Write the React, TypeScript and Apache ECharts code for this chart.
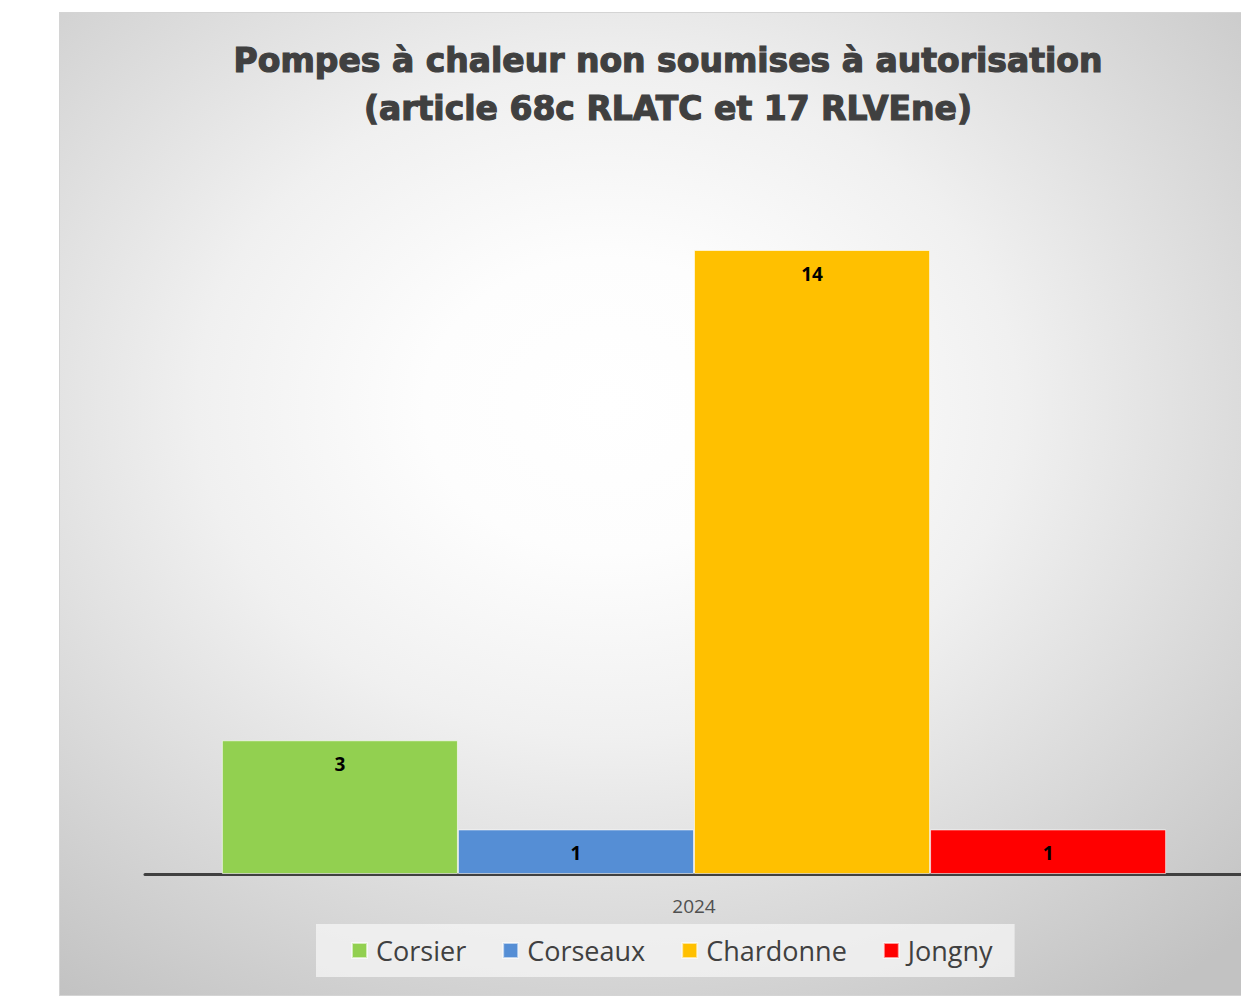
import React, { useEffect, useRef } from "react";
import * as echarts from "echarts";

const categories = ["2024"];
const seriesNames = ["Corsier", "Corseaux", "Chardonne", "Jongny"];
const corsier = [3];
const corseaux = [1];
const chardonne = [14];
const jongny = [1];
const colors = ["#92d050", "#558ed5", "#ffc000", "#ff0000"];
const titleText = "Pompes à chaleur non soumises à autorisation\n(article 68c RLATC et 17 RLVEne)";

export default function App() {
  const ref = useRef<HTMLDivElement>(null);
  useEffect(() => {
    if (!ref.current) return;
    const chart = echarts.init(ref.current, undefined, { renderer: "svg" });
    const values = [corsier, corseaux, chardonne, jongny];
    chart.setOption({
      animation: false,
      backgroundColor: new echarts.graphic.RadialGradient(0.45, 0.4, 0.75, [
        { offset: 0, color: "#ffffff" },
        { offset: 0.2, color: "#fdfdfd" },
        { offset: 0.45, color: "#f0f0f0" },
        { offset: 1, color: "#c2c2c2" },
      ]),
      title: {
        text: titleText,
        left: "center",
        top: 18,
        textStyle: {
          fontFamily: "'DejaVu Sans', sans-serif",
          fontWeight: "bold",
          fontSize: 33,
          lineHeight: 48,
          color: "#404040",
          textBorderColor: "#404040",
          textBorderWidth: 1.2,
        },
      },
      grid: { left: 85, right: 33, top: 237, bottom: 121 },
      xAxis: {
        type: "category",
        data: categories,
        axisLine: { show: true, lineStyle: { color: "#404040", width: 3 } },
        axisTick: { show: false },
        axisLabel: {
          fontFamily: "'Open Sans', sans-serif",
          fontSize: 19,
          color: "#505050",
          margin: 22,
        },
      },
      yAxis: {
        type: "value",
        min: 0,
        max: 14,
        show: false,
        splitLine: { show: false },
      },
      legend: {
        bottom: 18,
        left: 315 - 59,
        icon: "rect",
        itemWidth: 15,
        itemHeight: 15,
        itemGap: 36,
        backgroundColor: "rgba(245,245,245,0.75)",
        padding: [13, 22, 13, 35],
        textStyle: {
          fontFamily: "'Open Sans', sans-serif",
          fontSize: 27,
          color: "#404040",
          padding: [0, 0, 0, 4],
        },
        data: seriesNames,
      },
      series: seriesNames.map((name, i) => ({
        name,
        type: "bar",
        data: values[i],
        barGap: "0%",
        barCategoryGap: "14%",
        itemStyle: {
          color: colors[i],
          borderColor: "rgba(255,255,255,0.6)",
          borderWidth: 1,
        },
        label: {
          show: true,
          position: "insideTop",
          distance: 14,
          fontFamily: "'Open Sans', sans-serif",
          fontWeight: "bold",
          fontSize: 19,
          color: "#000000",
        },
      })),
    });
    return () => chart.dispose();
  }, []);
  return (
    <div
      style={{
        position: "fixed",
        left: 0,
        top: 0,
        width: 1241,
        height: 998,
        overflow: "hidden",
        background: "#ffffff",
      }}
    >
      <div
        ref={ref}
        style={{
          position: "absolute",
          left: 59,
          top: 12,
          width: 1218,
          height: 984,
          border: "1px solid #d4d4d4",
          boxSizing: "border-box",
        }}
      />
    </div>
  );
}
